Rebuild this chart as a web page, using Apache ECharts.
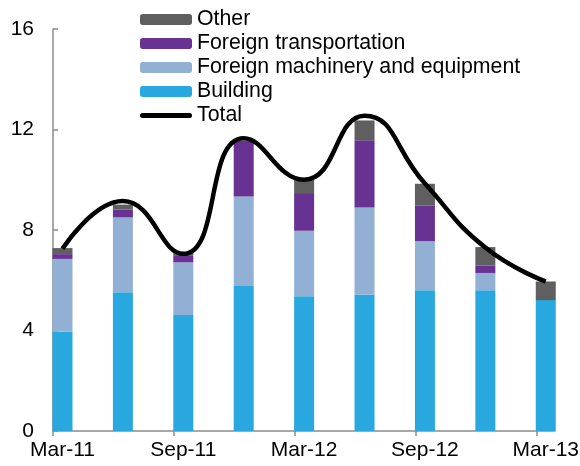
<!DOCTYPE html>
<html>
<head>
<meta charset="utf-8">
<script src="https://cdn.jsdelivr.net/npm/echarts@6/dist/echarts.min.js"></script>
<style>
  html, body { margin: 0; padding: 0; background: #fff; }
  #chart { width: 580px; height: 466px; }
</style>
</head>
<body>
<div id="chart"></div>
<script>
// quarters, Mar-11 .. Mar-13
const quarters = ['Mar-11', 'Jun-11', 'Sep-11', 'Dec-11', 'Mar-12', 'Jun-12', 'Sep-12', 'Dec-12', 'Mar-13'];
const building = [3.95, 5.52, 4.62, 5.77, 5.36, 5.42, 5.6, 5.6, 5.21];
const machinery = [2.9, 2.98, 2.09, 3.56, 2.61, 3.48, 1.96, 0.69, 0];
const transport = [0.19, 0.31, 0.26, 2.22, 1.5, 2.67, 1.42, 0.3, 0];
const other = [0.24, 0.2, 0.14, 0, 0.52, 0.79, 0.86, 0.73, 0.74];
const total = [7.25, 9.15, 7.05, 11.65, 10.0, 12.55, 9.85, 7.3, 5.95];
const xLabels = ['Mar-11', 'Sep-11', 'Mar-12', 'Sep-12', 'Mar-13'];

// bars sit just right of the ticks (date axis look)
const shift = 0.157;
// value first, position second -> stacking goes on the value
const pos = (arr) => arr.map((v, i) => [v, i + shift]);

const font = 'Liberation Sans, Arial, sans-serif';
const axisGrey = '#8c8c8c';

const chart = echarts.init(document.getElementById('chart'));

const barSeries = (name, data, color) => ({
    name: name,
    type: 'bar',
    stack: 'inv',
    barWidth: 20,
    encode: { x: 1, y: 0 },
    data: pos(data),
    itemStyle: { color: color },
});

chart.setOption({
    animation: false,
    textStyle: { fontFamily: font },
    grid: { left: 53, right: 25, top: 29, bottom: 35, containLabel: false, outerBoundsMode: 'none' },
    legend: {
        orient: 'vertical',
        left: 140,
        top: 9,
        padding: 0,
        itemWidth: 52,
        itemHeight: 11,
        itemGap: 3,
        textStyle: { fontSize: 21.3, lineHeight: 21, color: '#000', fontFamily: font },
        data: [
            'Other', 'Foreign transportation', 'Foreign machinery and equipment', 'Building',
            { name: 'Total', icon: 'path://M0,0h0.01v0.01h-0.01z M2.5,3a2.5,2.5 0 0 0 0,5h47a2.5,2.5 0 0 0 0,-5z M0,10.99h0.01v0.01h-0.01z' },
        ],
    },
    xAxis: {
        type: 'value',
        min: 0,
        max: 8.31,
        splitLine: { show: false },
        axisLine: { lineStyle: { color: axisGrey, width: 1.5 } },
        axisTick: {
            show: true,
            length: 5,
            lineStyle: { color: axisGrey, width: 1.5 },
            customValues: [0, 2, 4, 6, 8],
        },
        axisLabel: {
            color: '#000',
            fontSize: 21,
            margin: 9,
            fontFamily: font,
            customValues: xLabels.map((_, k) => 2 * k + shift),
            formatter: (v) => xLabels[Math.round((v - shift) / 2)] || '',
        },
    },
    yAxis: {
        type: 'value',
        min: 0,
        max: 16,
        interval: 4,
        splitLine: { show: false },
        axisLine: { show: true, lineStyle: { color: axisGrey, width: 1.5 } },
        axisTick: { show: true, inside: true, length: 5, lineStyle: { color: axisGrey, width: 1.5 } },
        axisLabel: { color: '#000', fontSize: 21, margin: 19, fontFamily: font },
    },
    series: [
        barSeries('Building', building, '#29a8e0'),
        barSeries('Foreign machinery and equipment', machinery, '#92b0d4'),
        barSeries('Foreign transportation', transport, '#683293'),
        barSeries('Other', other, '#5f5f5f'),
        {
            name: 'Total',
            type: 'line',
            smooth: 0.5,
            symbol: 'none',
            encode: { x: 1, y: 0 },
            data: pos(total),
            lineStyle: { color: '#000', width: 4.5 },
            itemStyle: { color: '#000' },
            z: 5,
        },
    ],
});
</script>
</body>
</html>
